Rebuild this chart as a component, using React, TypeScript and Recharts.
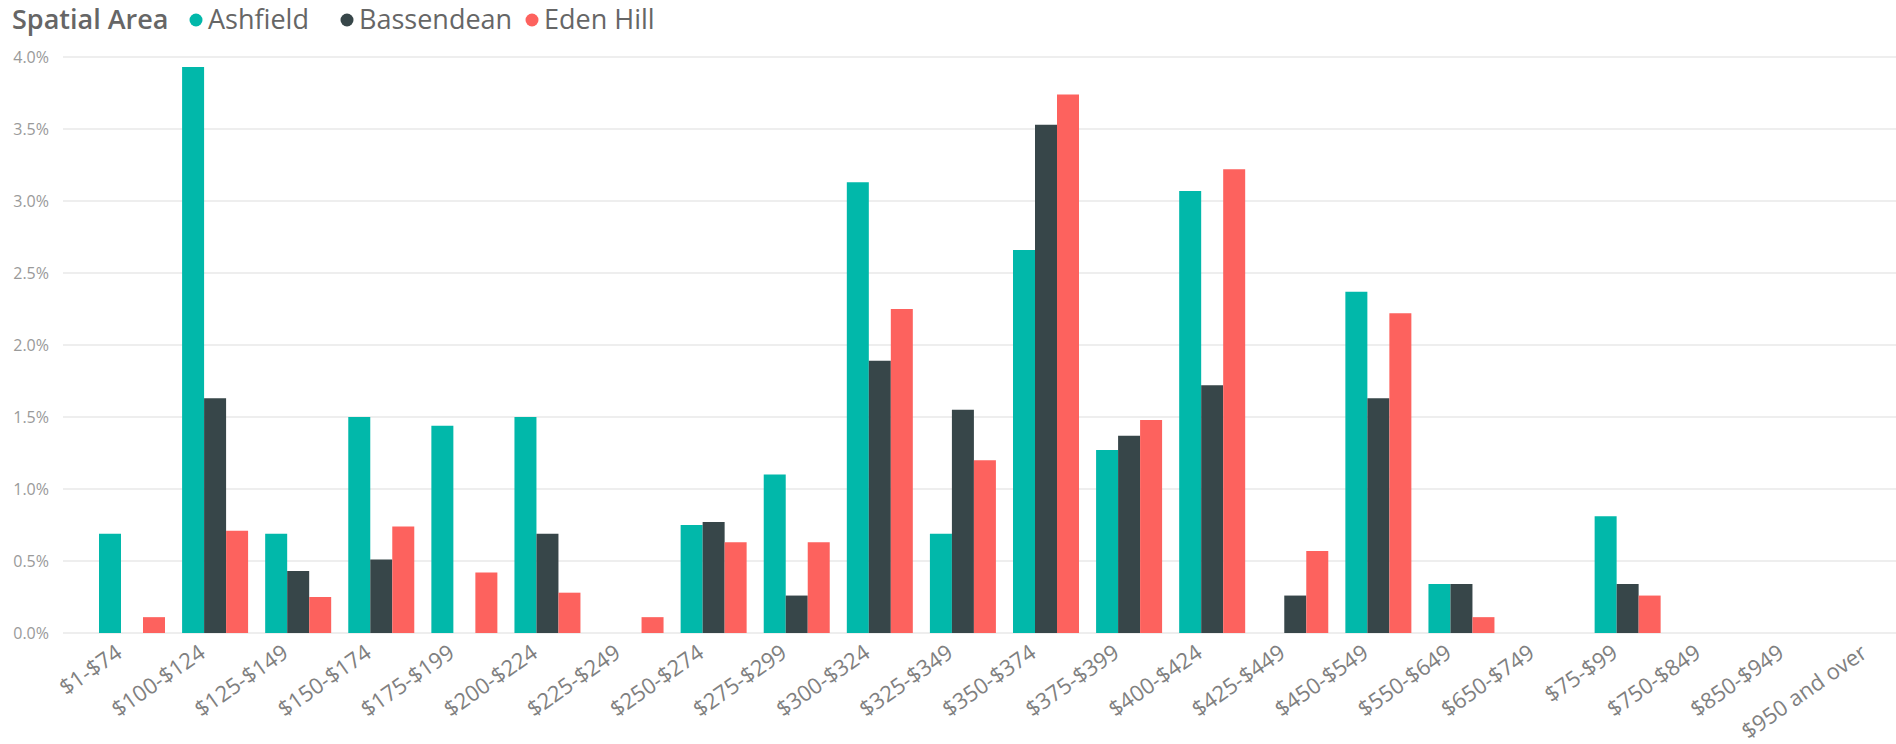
import React from "react";
import { BarChart, Bar, XAxis, YAxis, CartesianGrid } from "recharts";

// weekly rent bands, in the order the report sorts them (text sort)
const categories = [
  "$1-$74",
  "$100-$124",
  "$125-$149",
  "$150-$174",
  "$175-$199",
  "$200-$224",
  "$225-$249",
  "$250-$274",
  "$275-$299",
  "$300-$324",
  "$325-$349",
  "$350-$374",
  "$375-$399",
  "$400-$424",
  "$425-$449",
  "$450-$549",
  "$550-$649",
  "$650-$749",
  "$75-$99",
  "$750-$849",
  "$850-$949",
  "$950 and over",
];

// share of households (%)
const ashfield = [0.69, 3.93, 0.69, 1.5, 1.44, 1.5, null, 0.75, 1.1, 3.13, 0.69, 2.66, 1.27, 3.07, null, 2.37, 0.34, null, 0.81, null, null, null];
const bassendean = [null, 1.63, 0.43, 0.51, null, 0.69, null, 0.77, 0.26, 1.89, 1.55, 3.53, 1.37, 1.72, 0.26, 1.63, 0.34, null, 0.34, null, null, null];
const edenHill = [0.11, 0.71, 0.25, 0.74, 0.42, 0.28, 0.11, 0.63, 0.63, 2.25, 1.2, 3.74, 1.48, 3.22, 0.57, 2.22, 0.11, null, 0.26, null, null, null];

const yTicks = [0, 0.5, 1, 1.5, 2, 2.5, 3, 3.5, 4];

const legendTitle = "Spatial Area";
const seriesNames = ["Ashfield", "Bassendean", "Eden Hill"];
const seriesKeys = ["ashfield", "bassendean", "edenHill"];
const colors = ["#01B8AA", "#374649", "#FD625E"];

const FONT = "'Segoe UI', 'Open Sans', sans-serif";

const data = categories.map((band, i) => ({
  band,
  ashfield: ashfield[i],
  bassendean: bassendean[i],
  edenHill: edenHill[i],
}));

const AngledTick = (props: any) => {
  const { x, y, payload } = props;
  const ax = x - 17;
  const ay = y + 10;
  return (
    <text
      x={ax}
      y={ay}
      dy="0.72em"
      textAnchor="end"
      transform={`rotate(-35, ${ax}, ${ay})`}
      fontSize={22}
      fill="#808080"
      fontFamily={FONT}
    >
      {payload.value}
    </text>
  );
};

// legend dot centres
const legendDots = [196, 347, 532];

export default function App() {
  return (
    <div
      style={{
        position: "absolute",
        left: 0,
        top: 0,
        width: 1896,
        height: 744,
        overflow: "hidden",
        background: "#fff",
      }}
    >
      <BarChart
        width={1930}
        height={744}
        data={data}
        margin={{ top: 57, right: 12, bottom: 0, left: 0 }}
        barGap={0}
        barSize={22}
      >
        <CartesianGrid vertical={false} stroke="#e8e8e8" strokeWidth={1.5} />
        <XAxis
          dataKey="band"
          interval={0}
          axisLine={false}
          tickLine={false}
          tickSize={0}
          tickMargin={0}
          height={111}
          padding={{ left: 27, right: 0 }}
          tick={<AngledTick />}
        />
        <YAxis
          domain={[0, 4]}
          ticks={yTicks}
          width={63}
          axisLine={false}
          tickLine={false}
          tickSize={0}
          tickMargin={14}
          tick={{ fontSize: 16, fill: "#9a9a9a", fontFamily: FONT }}
          tickFormatter={(v: number) => `${v.toFixed(1)}%`}
        />
        {seriesKeys.map((key, i) => (
          <Bar
            key={key}
            dataKey={key}
            name={seriesNames[i]}
            fill={colors[i]}
            isAnimationActive={false}
          />
        ))}
      </BarChart>
      <svg
        width={720}
        height={50}
        style={{ position: "absolute", left: 0, top: 0 }}
      >
        <text x={12} y={29} fontSize={27} fontWeight={600} fill="#666" fontFamily={FONT}>
          {legendTitle}
        </text>
        {seriesNames.map((name, i) => (
          <g key={name}>
            <circle cx={legendDots[i]} cy={20} r={6.5} fill={colors[i]} />
            <text x={legendDots[i] + 12} y={29} fontSize={27} fill="#666" fontFamily={FONT}>
              {name}
            </text>
          </g>
        ))}
      </svg>
    </div>
  );
}
